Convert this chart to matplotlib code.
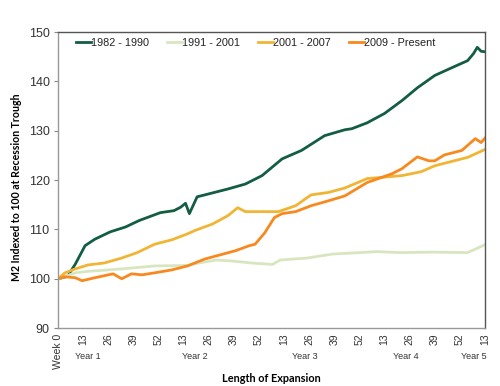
import matplotlib
matplotlib.use("Agg")
import matplotlib.pyplot as plt
import matplotlib.transforms as mtransforms

# ---- data (weeks since recession trough, M2 index) ----
w_8290 = [0, 5, 9, 14, 19, 27, 35, 42, 53, 60, 63.5, 66, 68, 72, 76, 88, 97, 105.6,
          116, 126, 138, 148.5, 152, 160, 169, 178, 186, 195, 204, 212, 215, 217, 219, 221]
v_8290 = [100, 100.5, 103, 106.7, 108, 109.5, 110.5, 111.8, 113.4, 113.8, 114.5, 115.3,
          113.2, 116.6, 117, 118.2, 119.2, 120.9, 124.3, 126, 129, 130.2, 130.4, 131.6,
          133.5, 136.1, 138.7, 141.2, 142.8, 144.2, 145.6, 146.9, 146.1, 146]

w_9101 = [0, 9, 15.5, 33, 50, 67, 73, 82, 90, 100, 111, 115, 129, 142, 165, 177, 194, 212, 221]
v_9101 = [100, 101.2, 101.5, 102, 102.6, 102.7, 103.2, 103.8, 103.6, 103.2, 102.9, 103.8,
          104.2, 105, 105.5, 105.3, 105.4, 105.3, 106.9]

w_0107 = [0, 3.6, 9, 15.5, 24, 33, 41, 50, 59, 67, 71, 80, 88, 93, 97, 106, 114, 123,
          131, 140, 148.5, 160, 178, 188, 195, 212, 221]
v_0107 = [100, 101.2, 102, 102.8, 103.2, 104.2, 105.3, 107, 107.9, 109.1, 109.8, 111.1,
          112.8, 114.4, 113.6, 113.6, 113.6, 114.8, 117, 117.5, 118.4, 120.3, 120.9, 121.7,
          122.9, 124.6, 126.2]

w_09p = [0, 3.6, 9, 12.5, 19, 28.5, 33, 38, 43.5, 50, 59, 67, 76, 92, 99, 102, 107, 112,
         116, 123, 131, 140, 148.5, 160, 173, 178, 186, 192, 195, 200, 209, 216, 219, 221]
v_09p = [100, 100.4, 100.2, 99.6, 100.2, 101, 100, 101, 100.8, 101.2, 101.8, 102.6, 104,
         105.7, 106.7, 107, 109.3, 112.4, 113.2, 113.6, 114.8, 115.8, 116.8, 119.5, 121.3,
         122.3, 124.7, 123.9, 123.9, 125.1, 126, 128.4, 127.6, 128.5]

series_names = ["1982 - 1990", "1991 - 2001", "2001 - 2007", "2009 - Present"]
tick_weeks = [0, 13, 26, 39, 52, 65, 78, 91, 104, 117, 130, 143, 156, 169, 182, 195, 208, 221]
tick_labels = ["Week 0", "13", "26", "39", "52", "13", "26", "39", "52", "13", "26", "39",
               "52", "13", "26", "39", "52", "13"]
year_labels = ["Year 1", "Year 2", "Year 3", "Year 4", "Year 5"]
year_pos = [15.5, 71, 128, 180, 215]

colors = ["#135D42", "#D8E6C0", "#F0B535", "#F7891F"]

fig = plt.figure(figsize=(5.0, 3.86), dpi=100)
ax = fig.add_axes([0.116, 0.150, 0.854, 0.767])

for (w, v), c, n in zip([(w_8290, v_8290), (w_9101, v_9101), (w_0107, v_0107), (w_09p, v_09p)],
                        colors, series_names):
    ax.plot(w, v, color=c, lw=2.0, label=n, solid_joinstyle="round")

ax.set_xlim(0, 221)
ax.set_ylim(90, 150)
ax.set_yticks([90, 100, 110, 120, 130, 140, 150])
ax.set_xticks(tick_weeks)
ax.set_xticklabels(tick_labels, rotation=90, fontsize=7.5, family="Liberation Sans", color="#333333")
for lab in ax.get_yticklabels():
    lab.set_fontsize(9)
    lab.set_family("Liberation Sans")
    lab.set_color("#333333")
ax.tick_params(axis="x", length=0, pad=4)
ax.tick_params(axis="y", length=3, color="#888888", pad=3)

for s in ["left", "bottom"]:
    ax.spines[s].set_color("#999999")
for s in ["top", "right"]:
    ax.spines[s].set_color("#555555")
for s in ax.spines.values():
    s.set_linewidth(1.0)

trans = mtransforms.blended_transform_factory(ax.transData, ax.transAxes)
for lbl, p in zip(year_labels, year_pos):
    ax.text(p, -0.095, lbl, transform=trans, ha="center", va="center", fontsize=6.5,
            family="Liberation Sans", color="#333333")

ax.set_xlabel("Length of Expansion", fontsize=7.8, fontweight="bold", family="Lato")
ax.xaxis.set_label_coords(0.5, -0.152)
ax.set_ylabel("M2 Indexed to 100 at Recession Trough", fontsize=7.6, fontweight="bold", family="Lato")
ax.yaxis.set_label_coords(-0.084, 0.476)

leg = ax.legend(loc="center left", bbox_to_anchor=(0.042, 0.963), ncol=4, frameon=False,
                handlelength=1.4, handletextpad=0.0, columnspacing=1.65,
                borderaxespad=0, borderpad=0,
                prop={"family": "Liberation Sans", "size": 7.8})
for t in leg.get_texts():
    t.set_color("#222222")

fig.savefig("out.png", dpi=100)
